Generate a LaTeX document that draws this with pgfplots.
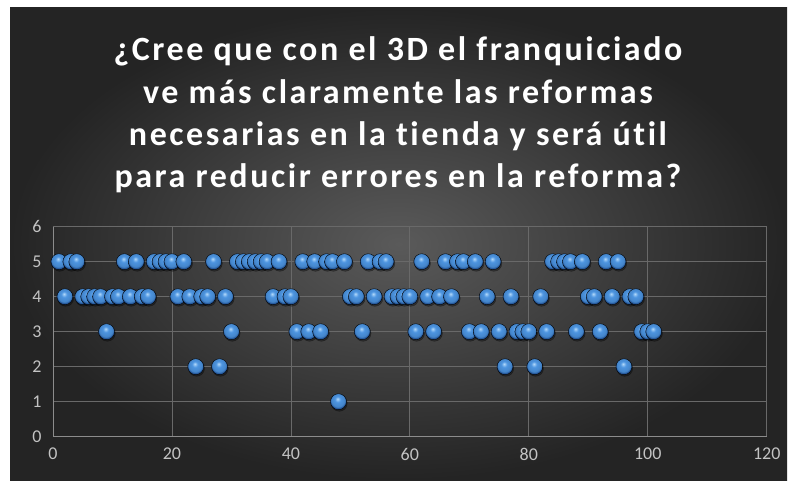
\documentclass[border=0pt]{standalone}
\usepackage{pgfplots}
\pgfplotsset{compat=1.18}
\usepackage{fontspec}
\setmainfont{Carlito}
\newfontfamily\titlefont[LetterSpace=7.5,Ligatures=NoCommon]{Carlito}

\definecolor{bgin}{RGB}{90,90,90}
\definecolor{bgout}{RGB}{36,36,36}
\definecolor{sphhi}{RGB}{180,218,250}
\definecolor{sphmain}{RGB}{76,148,224}
\definecolor{sphdark}{RGB}{34,82,148}
\definecolor{ticktext}{RGB}{195,195,195}
\definecolor{gridc}{RGB}{105,105,105}
\definecolor{axisc}{RGB}{140,140,140}

% glossy blue sphere used as the scatter marker
\pgfdeclareradialshading{bluesphere}{\pgfqpoint{-3bp}{9bp}}{%
  color(0bp)=(sphhi); color(9bp)=(sphmain); color(21bp)=(sphmain!90!black);
  color(25bp)=(sphdark); color(50bp)=(sphdark)}

\pgfdeclareplotmark{sphere}{%
  \fill[black,opacity=0.35] (0.8pt,-1.6pt) circle (\pgfplotmarksize);
  \shade[shading=bluesphere] (0pt,0pt) circle (\pgfplotmarksize);
}

% respondent number vs. answer (1-5)
\pgfplotstableread{
x y
1 5
2 4
3 5
4 5
5 4
6 4
7 4
8 4
9 3
10 4
11 4
12 5
13 4
14 5
15 4
16 4
17 5
18 5
19 5
20 5
21 4
22 5
23 4
24 2
25 4
26 4
27 5
28 2
29 4
30 3
31 5
32 5
33 5
34 5
35 5
36 5
37 4
38 5
39 4
40 4
41 3
42 5
43 3
44 5
45 3
46 5
47 5
48 1
49 5
50 4
51 4
52 3
53 5
54 4
55 5
56 5
57 4
58 4
59 4
60 4
61 3
62 5
63 4
64 3
65 4
66 5
67 4
68 5
69 5
70 3
71 5
72 3
73 4
74 5
75 3
76 2
77 4
78 3
79 3
80 3
81 2
82 4
83 3
84 5
85 5
86 5
87 5
88 3
89 5
90 4
91 4
92 3
93 5
94 4
95 5
96 2
97 4
98 4
99 3
100 3
101 3
}\answers

\begin{document}
\begin{tikzpicture}[x=1pt,y=1pt]
\fill[white] (0,0) rectangle (797,480);
\shade[inner color=bgin, outer color=bgout] (10,0) rectangle (787,472);
\node[text=white, align=center, inner sep=0pt,
      font=\titlefont\bfseries\fontsize{34}{42.3}\selectfont] at (398,365)
  {¿Cree que con el 3D el franquiciado\\
   ve más claramente las reformas\\
   necesarias en la tienda y será útil\\
   para reducir errores en la reforma?};
\begin{axis}[
  at={(53pt,43.3pt)}, anchor=south west, scale only axis,
  width=713.7pt, height=210pt,
  xmin=0, xmax=120, ymin=0, ymax=6,
  xtick={0,20,...,120}, ytick={0,1,...,6},
  grid=major, major grid style={gridc, line width=0.8pt},
  axis x line*=bottom, axis y line*=left,
  axis line style={axisc, line width=1pt},
  major tick length=0pt,
  /pgf/number format/assume math mode=true,
  tick label style={font=\fontsize{18}{20}\selectfont, text=ticktext},
  xticklabel style={yshift=-8pt},
  yticklabel style={xshift=-8pt},
  clip=false,
]
\addplot[only marks, mark=sphere, mark size=8pt] table[x=x, y=y] {\answers};
\end{axis}
\end{tikzpicture}
\end{document}
